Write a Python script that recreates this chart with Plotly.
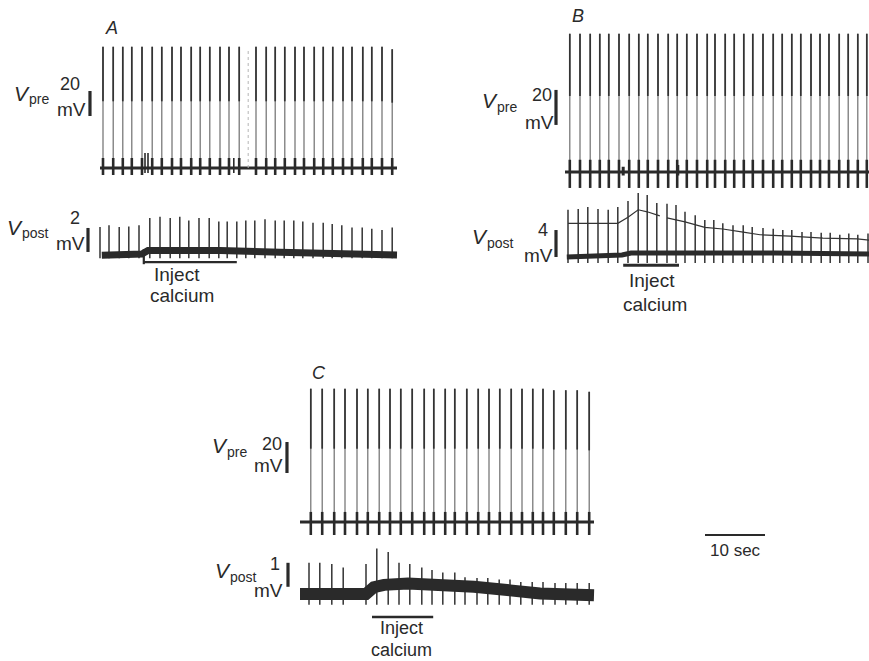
import plotly.graph_objects as go

W, H = 869, 661

# ---------------- DATA (time in s, voltage in mV) ----------------
# Panel A
A_pre_t = [0.5, 2.2, 3.8, 5.3, 7.0, 8.7, 10.3, 12.0, 13.5, 15.2, 16.7, 18.3, 20.0, 21.5, 23.2,
           26.0, 27.7, 29.2, 30.8, 32.5, 34.0, 35.7, 37.2, 38.8, 40.5, 42.0, 43.8, 45.3, 47.0, 48.7]
A_pre_peak = [97, 97, 97, 97, 97, 97, 97, 97, 97, 97, 97, 97, 97, 97, 97,
              97, 97, 97, 97, 97, 97, 97, 97, 97, 97, 97, 97, 97, 97, 95]
A_pre_faint_t = [24.7]
A_pre_art_t = [7.5, 8.0, 22.3]
A_pre_art_v = [12, 12, 8]
A_post_t = [0.0, 1.5, 3.2, 4.8, 6.5, 8.3, 10.0, 11.7, 13.3, 14.8, 16.5, 18.2, 19.8, 21.2, 22.8, 24.3,
            25.8, 27.5, 29.2, 30.7, 32.3, 33.8, 35.5, 37.2, 38.7, 40.3, 42.0, 43.7, 45.3, 47.0, 48.7]
A_post_peak = [2.25, 2.4, 2.25, 2.3, 2.4, 3.0, 3.1, 3.0, 3.1, 2.8, 3.0, 3.0, 2.7, 2.7, 2.7, 2.8,
               2.8, 2.9, 2.8, 2.8, 2.8, 2.7, 2.6, 2.6, 2.5, 2.4, 2.2, 2.2, 2.1, 2.0, 2.2]
A_post_base_t = [0.3, 7.0, 8.0, 12.0, 20.0, 30.0, 40.0, 49.5]
A_post_base_v = [-0.1, 0.0, 0.3, 0.3, 0.3, 0.15, 0.05, -0.08]
A_inject = [7.3, 22.8]

# Panel B
B_pre_t = [0.8, 2.5, 4.2, 5.8, 7.3, 9.0, 10.7, 12.3, 13.8, 15.5, 17.2, 18.7, 20.3, 22.0, 23.7, 25.0,
           26.7, 28.2, 29.8, 31.3, 33.0, 34.7, 36.2, 37.8, 39.3, 41.0, 42.5, 44.0, 45.7, 47.2, 48.8, 50.3]
B_pre_peak = [79, 79, 79, 79, 79, 79, 79, 79, 79, 79, 79, 79, 79, 79, 79, 79,
              79, 79, 79, 79, 79, 79, 79, 79, 79, 79, 79, 79, 79, 79, 79, 79]
B_pre_art_t = [9.7, 18.8]
B_pre_art_v = [3, 4]
B_post_t = [0.5, 2.2, 3.8, 5.5, 7.2, 8.8, 10.5, 12.2, 13.7, 15.3, 17.0, 18.5, 20.0, 21.7, 23.3, 24.8,
            26.3, 28.0, 29.7, 31.2, 33.0, 34.7, 36.3, 37.8, 39.5, 41.0, 42.7, 44.2, 45.8, 47.3, 48.8, 50.5]
B_post_peak = [6.7, 6.8, 7.1, 6.8, 6.7, 7.1, 8.0, 9.2, 8.9, 7.7, 7.6, 7.4, 6.4, 5.9, 5.2, 5.2,
               4.7, 4.4, 4.4, 4.15, 4.0, 3.9, 3.7, 3.7, 3.4, 3.4, 3.3, 3.3, 3.0, 3.2, 3.0, 3.2]
B_env_t = [0.5, 8.8, 10.5, 12.2, 13.7, 15.8, None, 17.0, 20.0, 23.3, 26.3, 29.7, 32.5, 37.5, 43.0, 48.7, 50.7]
B_env_v = [4.7, 4.7, 5.6, 6.7, 6.4, 5.8, None, 5.5, 4.9, 4.1, 3.85, 3.4, 3.0, 2.8, 2.5, 2.4, 2.2]
B_post_base_t = [0.3, 9.5, 11.0, 20.0, 35.0, 50.7]
B_post_base_v = [-0.3, 0.0, 0.3, 0.35, 0.3, 0.15]
B_inject = [9.7, 19.0]

# Panel C
C_pre_t = [1.8, 3.7, 5.7, 7.5, 9.5, 11.3, 13.2, 15.0, 16.8, 18.7, 20.7, 22.3, 24.2, 25.8, 27.8, 29.7,
           31.5, 33.3, 35.2, 37.0, 38.8, 40.5, 42.3, 44.3, 46.2, 48.2]
C_pre_peak = [86, 86, 86, 86, 86, 86, 86, 86, 86, 86, 86, 86, 86, 86, 86, 86,
              86, 86, 86, 86, 86, 86, 85, 85, 85, 84]
C_post_t = [1.5, 3.3, 5.3, 7.2, 11.0, 12.8, 14.7, 16.5, 18.3, 20.3, 22.0, 23.8, 25.8, 27.5, 29.5, 31.3,
            33.2, 35.0, 36.8, 38.7, 40.5, 42.5, 44.3, 46.2, 48.2]
C_post_peak = [1.3, 1.3, 1.25, 1.1, 1.25, 1.9, 1.75, 1.3, 1.25, 1.1, 1.0, 0.9, 0.9, 0.7, 0.67, 0.67,
               0.6, 0.6, 0.5, 0.5, 0.5, 0.46, 0.46, 0.46, 0.46]
C_post_base_t = [0.0, 11.0, 12.3, 14.0, 18.0, 22.0, 29.0, 35.0, 40.0, 49.0]
C_post_base_v = [0.0, 0.0, 0.28, 0.38, 0.44, 0.42, 0.3, 0.15, 0.02, -0.05]
C_inject = [12.0, 22.2]

# scale bars: (time, start mV, length mV)
SB_A_pre = (-1.67, 41.6, 20)
SB_A_post = (-2.0, 0.17, 2)
SB_B_pre = (-1.5, 26.9, 20)
SB_B_post = (-1.5, -0.3, 4)
SB_C_pre = (-2.17, 31.6, 20)
SB_C_post = (-2.0, 0.3, 1)
TIME_BAR = (67.5, 10, 2.46)   # start s, length s, level (C post axis)

# ---------------- CALIBRATION (layout) ----------------
CAL = {
    1: dict(x0=100, sx=6, y0=168, sy=1.25),   # A pre
    2: dict(x0=100, sx=6, y0=254, sy=12),     # A post
    3: dict(x0=565, sx=6, y0=172, sy=1.75),   # B pre
    4: dict(x0=565, sx=6, y0=255, sy=6.75),   # B post
    5: dict(x0=300, sx=6, y0=522, sy=1.55),   # C pre
    6: dict(x0=300, sx=6, y0=594, sy=24),     # C post
}

INK = "#2a2a2a"
fig = go.Figure()


def ax(i):
    return ("x" if i == 1 else f"x{i}"), ("y" if i == 1 else f"y{i}")


def line(i, xs, ys, width, color=INK, dash=None):
    xa, ya = ax(i)
    fig.add_trace(go.Scatter(x=xs, y=ys, mode="lines", xaxis=xa, yaxis=ya,
                             line=dict(color=color, width=width, dash=dash),
                             hoverinfo="skip", showlegend=False))


def segs(ts, lo, hi):
    xs, ys = [], []
    for t, a, b in zip(ts, lo, hi):
        xs += [t, t, None]
        ys += [a, b, None]
    return xs, ys


def pre_panel(i, ts, peaks, trough, tick, t0, t1):
    n = len(ts)
    xs, ys = segs(ts, [trough] * n, peaks)
    line(i, xs, ys, 1.2, "#6e6e6e")
    xs, ys = segs(ts, [p * 0.55 for p in peaks], peaks)
    line(i, xs, ys, 1.7, "#333333")
    xs, ys = segs(ts, [trough] * n, [tick] * n)
    line(i, xs, ys, 2.6)
    line(i, [t0, t1], [0, 0], 3.0)


def post_spikes(i, ts, peaks, bottom, width=1.5):
    xs, ys = segs(ts, [bottom] * len(ts), peaks)
    line(i, xs, ys, width, "#333333")


def scalebar(i, sb):
    t, v, L = sb
    line(i, [t, t], [v, v + L], 3.2)


# Panel A
pre_panel(1, A_pre_t, A_pre_peak, -5.6, 8, 0, 49.5)
xs, ys = segs(A_pre_faint_t, [0], [95])
line(1, xs, ys, 1.0, "#b5b5b5", "dot")
xs, ys = segs(A_pre_art_t, [-4, -4, -4], A_pre_art_v)
line(1, xs, ys, 1.6)
post_spikes(2, A_post_t, A_post_peak, -0.35)
line(2, A_post_base_t, A_post_base_v, 7)
line(2, A_inject, [-0.67, -0.67], 2.2)
line(2, [A_inject[0], A_inject[0]], [-0.85, 0.4], 2.2)
scalebar(1, SB_A_pre)
scalebar(2, SB_A_post)

# Panel B
pre_panel(3, B_pre_t, B_pre_peak, -9.1, 7, 0, 51)
xs, ys = segs(B_pre_art_t, [-2, -2], B_pre_art_v)
line(3, xs, ys, 3)
post_spikes(4, B_post_t, B_post_peak, -1.2)
line(4, B_env_t, B_env_v, 1.2, "#333333")
line(4, B_post_base_t, B_post_base_v, 5)
line(4, B_inject, [-1.5, -1.5], 3)
scalebar(3, SB_B_pre)
scalebar(4, SB_B_post)

# Panel C
pre_panel(5, C_pre_t, C_pre_peak, -8.4, 6.5, 0, 49)
post_spikes(6, C_post_t, C_post_peak, -0.45)
line(6, C_post_base_t, C_post_base_v, 12)
line(6, C_inject, [-0.96, -0.96], 2.5)
scalebar(5, SB_C_pre)
scalebar(6, SB_C_post)
line(6, [TIME_BAR[0], TIME_BAR[0] + TIME_BAR[1]], [TIME_BAR[2], TIME_BAR[2]], 2)

# axes
layout_axes = {}
for i, c in CAL.items():
    xk = "xaxis" if i == 1 else f"xaxis{i}"
    yk = "yaxis" if i == 1 else f"yaxis{i}"
    xa, ya = ax(i)
    layout_axes[xk] = dict(domain=[0, 1], range=[-c["x0"] / c["sx"], (W - c["x0"]) / c["sx"]],
                           visible=False, fixedrange=True, anchor=ya)
    layout_axes[yk] = dict(domain=[0, 1], range=[-(H - c["y0"]) / c["sy"], c["y0"] / c["sy"]],
                           visible=False, fixedrange=True, anchor=xa)

FONT = "Liberation Sans, Arial, sans-serif"
anns = []


def ann(text, xpx, ypx, size, xanchor="center", italic=False):
    f = dict(family=FONT, size=size, color=INK)
    if italic:
        f["style"] = "italic"
    anns.append(dict(text=text, x=xpx / W, y=1 - ypx / H, xref="paper", yref="paper",
                     xanchor=xanchor, yanchor="middle", showarrow=False, font=f,
                     borderpad=0))


def vlabel(sub, vx, vy, sx, sy):
    ann("V", vx, vy, 21, "center", italic=True)
    ann(sub, sx, sy, 14, "left")


# panel letters
ann("A", 111, 28, 18, italic=True)
ann("B", 578, 16, 18, italic=True)
ann("C", 319, 373, 18, italic=True)
# A labels
vlabel("pre", 22, 93, 28, 99)
ann("20", 81, 84, 18, "right")
ann("mV", 87, 109, 19, "right")
vlabel("post", 15, 227, 21, 233)
ann("2", 81, 218, 18, "right")
ann("mV", 86, 243, 19, "right")
ann("Inject", 177, 274, 19)
ann("calcium", 182, 296, 19)
# B labels
vlabel("pre", 490, 100, 496, 107)
ann("20", 553, 95, 18, "right")
ann("mV", 555, 122, 19, "right")
vlabel("post", 480, 237, 486, 243)
ann("4", 549, 230, 18, "right")
ann("mV", 554, 255, 19, "right")
ann("Inject", 652, 281, 19)
ann("calcium", 655, 304, 19)
# C labels
vlabel("pre", 220, 445, 226, 452)
ann("20", 283, 444, 18, "right")
ann("mV", 284, 465, 19, "right")
vlabel("post", 223, 570, 229, 577)
ann("1", 281, 564, 18, "right")
ann("mV", 284, 590, 19, "right")
ann("Inject", 401, 628, 18)
ann("calcium", 401, 650, 18)
ann("10 sec", 735, 550, 17)

fig.update_layout(width=W, height=H, margin=dict(l=0, r=0, t=0, b=0),
                  paper_bgcolor="white", plot_bgcolor="rgba(0,0,0,0)",
                  annotations=anns, **layout_axes)

fig.write_html("out.html", config={"staticPlot": True})
